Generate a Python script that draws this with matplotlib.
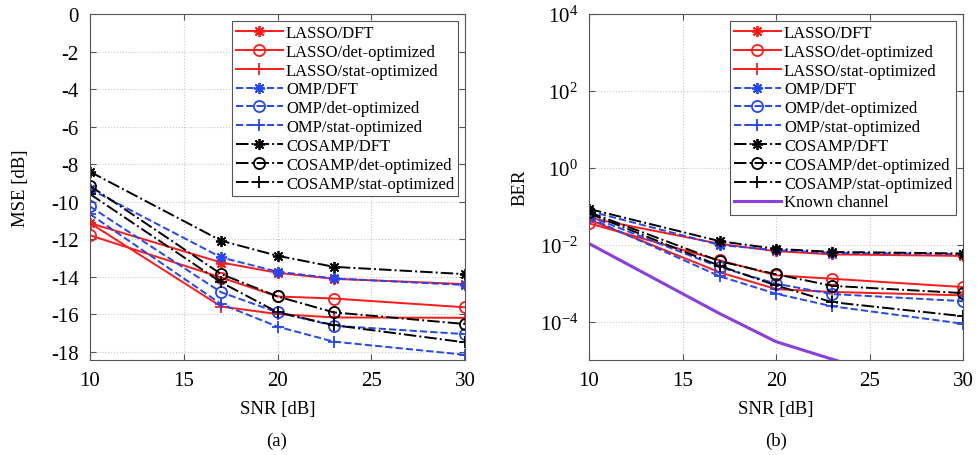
import numpy as np
import matplotlib
matplotlib.use("Agg")
import matplotlib.pyplot as plt

plt.rcParams['font.family'] = ['Liberation Serif', 'DejaVu Serif']
plt.rcParams['mathtext.fontset'] = 'custom'
plt.rcParams['mathtext.rm'] = 'Liberation Serif'
plt.rcParams['mathtext.it'] = 'Liberation Serif:italic'
plt.rcParams['axes.unicode_minus'] = False

snr = [10, 17, 20, 23, 30]

# (a) MSE [dB]
mse_lasso_dft = [-11.15, -13.25, -13.8, -14.12, -14.4]
mse_lasso_det = [-11.8, -14.05, -15.06, -15.17, -15.64]
mse_lasso_stat = [-11.15, -15.6, -16.0, -16.18, -16.2]
mse_omp_dft = [-9.33, -12.98, -13.74, -14.1, -14.45]
mse_omp_det = [-10.26, -14.84, -15.91, -16.62, -17.07]
mse_omp_stat = [-10.67, -15.47, -16.67, -17.47, -18.17]
mse_cosamp_dft = [-8.41, -12.09, -12.89, -13.48, -13.87]
mse_cosamp_det = [-9.16, -13.87, -15.06, -15.91, -16.53]
mse_cosamp_stat = [-9.6, -14.31, -15.9, -16.59, -17.51]

# (b) BER
ber_lasso_dft = [0.05, 0.0105, 0.0068, 0.0056, 0.0051]
ber_lasso_det = [0.036, 0.0039, 0.0016, 0.0013, 7.9e-4]
ber_lasso_stat = [0.045, 0.0019, 7.0e-4, 5.9e-4, 4.8e-4]
ber_omp_dft = [0.075, 0.0098, 0.0072, 0.0061, 0.0057]
ber_omp_det = [0.055, 0.0026, 9.7e-4, 5.2e-4, 3.4e-4]
ber_omp_stat = [0.05, 0.0015, 5.3e-4, 2.5e-4, 8.8e-5]
ber_cosamp_dft = [0.085, 0.0123, 0.0078, 0.0065, 0.0059]
ber_cosamp_det = [0.07, 0.0037, 0.0017, 8.5e-4, 5.5e-4]
ber_cosamp_stat = [0.065, 0.0028, 8.7e-4, 3.2e-4, 1.38e-4]
ber_known = [0.0107, 1.6e-4, 3.0e-5, 1.05e-5, 1e-6]

labels = ['LASSO/DFT', 'LASSO/det-optimized', 'LASSO/stat-optimized',
          'OMP/DFT', 'OMP/det-optimized', 'OMP/stat-optimized',
          'COSAMP/DFT', 'COSAMP/det-optimized', 'COSAMP/stat-optimized']

red, blue, black, purple = '#ff1a1a', '#2347f0', '#000000', '#8a3fe0'
star = (8, 2, 0)  # MATLAB-style asterisk
styles = [(red, '-', star), (red, '-', 'o'), (red, '-', '+'),
          (blue, '--', star), (blue, '--', 'o'), (blue, '--', '+'),
          (black, '-.', star), (black, '-.', 'o'), (black, '-.', '+')]

mse_series = [mse_lasso_dft, mse_lasso_det, mse_lasso_stat,
              mse_omp_dft, mse_omp_det, mse_omp_stat,
              mse_cosamp_dft, mse_cosamp_det, mse_cosamp_stat]
ber_series = [ber_lasso_dft, ber_lasso_det, ber_lasso_stat,
              ber_omp_dft, ber_omp_det, ber_omp_stat,
              ber_cosamp_dft, ber_cosamp_det, ber_cosamp_stat]

fig = plt.figure(figsize=(9.77, 4.56), dpi=100)
ax1 = fig.add_axes([0.0921, 0.2083, 0.3839, 0.7587])
ax2 = fig.add_axes([0.6029, 0.2083, 0.3828, 0.7587])


def draw(ax, series):
    for y, (c, ls, m), lab in zip(series, styles, labels):
        ax.plot(snr, y, color=c, linestyle=ls, marker=m, markersize=8,
                markerfacecolor='none', markeredgewidth=1.3, linewidth=1.4,
                label=lab)


def style_axes(ax):
    ax.set_xlim(10, 30)
    ax.set_xticks([10, 15, 20, 25, 30])
    ax.grid(True, linestyle=':', color='#c8c8c8', linewidth=0.8)
    ax.tick_params(direction='in', labelsize=15, pad=8, length=4,
                   color='#555555', top=True, right=True)
    for s in ax.spines.values():
        s.set_color('#555555')
        s.set_linewidth(0.8)
    ax.set_xlabel('SNR [dB]', fontsize=13.5)
    ax.xaxis.set_label_coords(0.5, -0.115)
    ax.yaxis.set_label_coords(-0.163, 0.5)


draw(ax1, mse_series)
style_axes(ax1)
ax1.set_ylim(-18.45, 0)
ax1.set_yticks(np.arange(-18, 1, 2))
ax1.set_ylabel('MSE [dB]', fontsize=13.5)

draw(ax2, ber_series)
ax2.plot(snr, ber_known, color=purple, linewidth=2.2, label='Known channel')
ax2.set_yscale('log')
style_axes(ax2)
ax2.set_ylim(1e-5, 1e4)
ax2.set_yticks([1e-4, 1e-2, 1e0, 1e2, 1e4])
ax2.minorticks_off()
ax2.set_ylabel('BER', fontsize=13.5)

for ax in (ax1, ax2):
    leg = ax.legend(loc='upper right', fontsize=12, handlelength=2.8,
                    labelspacing=0.17, borderpad=0.25, borderaxespad=0.4,
                    handletextpad=0.2, fancybox=False, framealpha=1)
    leg.get_frame().set_edgecolor('#555555')
    leg.get_frame().set_linewidth(0.8)

fig.text(0.2834, 0.033, '(a)', ha='center', va='center', fontsize=13.5)
fig.text(0.7943, 0.033, '(b)', ha='center', va='center', fontsize=13.5)

fig.savefig('out.png', dpi=100)
